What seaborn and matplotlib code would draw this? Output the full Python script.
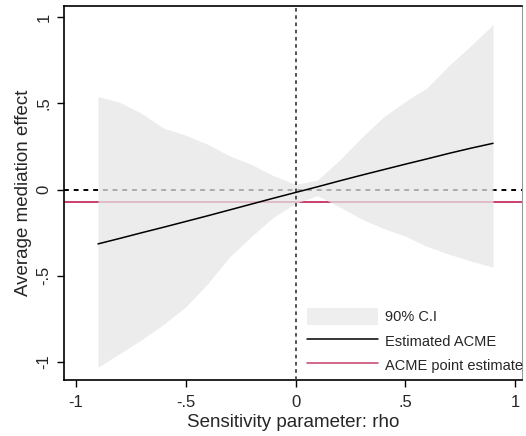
import numpy as np
import pandas as pd
import matplotlib
matplotlib.use("Agg")
import matplotlib.pyplot as plt
import seaborn as sns
from matplotlib.patches import Patch
from matplotlib.lines import Line2D

rho = [-0.9, -0.8, -0.7, -0.6, -0.5, -0.4, -0.3, -0.2, -0.1, 0.0,
       0.1, 0.2, 0.3, 0.4, 0.5, 0.6, 0.7, 0.8, 0.9]
acme = [-0.315, -0.283, -0.250, -0.218, -0.185, -0.152, -0.118, -0.084, -0.050, -0.017,
        0.016, 0.050, 0.083, 0.115, 0.147, 0.178, 0.210, 0.240, 0.268]
ci_upper = [0.539, 0.505, 0.440, 0.355, 0.315, 0.262, 0.195, 0.145, 0.080, 0.030,
            0.055, 0.170, 0.300, 0.420, 0.510, 0.590, 0.720, 0.835, 0.956]
ci_lower = [-1.030, -0.950, -0.870, -0.780, -0.680, -0.545, -0.390, -0.270, -0.160, -0.080,
            -0.035, -0.100, -0.170, -0.225, -0.270, -0.330, -0.375, -0.415, -0.450]
point_estimate = -0.07

xticks = [-1, -0.5, 0, 0.5, 1]
xtick_labels = ["-1", "-.5", "0", ".5", "1"]
yticks = [-1, -0.5, 0, 0.5, 1]
ytick_labels = ["-1", "-.5", "0", ".5", "1"]

df = pd.DataFrame({"rho": rho, "acme": acme, "lo": ci_lower, "hi": ci_upper})

sns.set_style("white")
plt.rcParams["font.family"] = ["Liberation Sans", "DejaVu Sans"]

red = "#c8406a"

fig = plt.figure(figsize=(5.26, 4.36), dpi=100)
ax = fig.add_axes([64 / 526, 56 / 436, 458 / 526, 374 / 436])

# reference lines (below the band)
ax.axhline(0, color="black", lw=1.4, ls=(0, (2.5, 2.5)), zorder=1)
ax.axhline(point_estimate, color=red, lw=1.4, zorder=1)

# confidence band (semi-opaque, on top of reference lines)
ax.fill_between(df["rho"], df["lo"], df["hi"], color="#e6e6e6", alpha=0.75,
                lw=0, zorder=2)

# vertical line at rho = 0
ax.axvline(0, color="#444444", lw=1.3, ls=(0, (2, 2)), zorder=3)

sns.lineplot(data=df, x="rho", y="acme", color="black", lw=1.1, ax=ax,
             zorder=4, legend=False)

ax.set_xlim(-1.055, 1.032)
ax.set_ylim(-1.104, 1.064)
ax.set_xticks(xticks)
ax.set_xticklabels(xtick_labels)
ax.set_yticks(yticks)
ax.set_yticklabels(ytick_labels, rotation=90, va="center")
ax.tick_params(axis="x", direction="out", length=5, width=1, color="black",
               labelsize=12, pad=6, bottom=True)
ax.tick_params(axis="y", direction="out", length=5, width=1, color="black",
               labelsize=12, pad=4, left=True)

ax.set_xlabel("Sensitivity parameter: rho", fontsize=13.5, labelpad=3)
ax.set_ylabel("Average mediation effect", fontsize=13.5, labelpad=3)

for side in ["left", "bottom", "top"]:
    ax.spines[side].set_color("black")
    ax.spines[side].set_linewidth(1.2)
ax.spines["right"].set_color("#999999")
ax.spines["right"].set_linewidth(0.8)

handles = [Patch(facecolor="#eeeeee", edgecolor="none", label="90% C.I"),
           Line2D([], [], color="black", lw=1.1, label="Estimated ACME"),
           Line2D([], [], color=red, lw=1.1, label="ACME point estimate")]
leg = ax.legend(handles=handles, loc="upper left", bbox_to_anchor=(0.53, 0.192),
                frameon=False, fontsize=10.5, handlelength=4.9, handleheight=1.4,
                handletextpad=0.45, labelspacing=0.5, borderpad=0, borderaxespad=0)

fig.savefig("out.png", dpi=100)
